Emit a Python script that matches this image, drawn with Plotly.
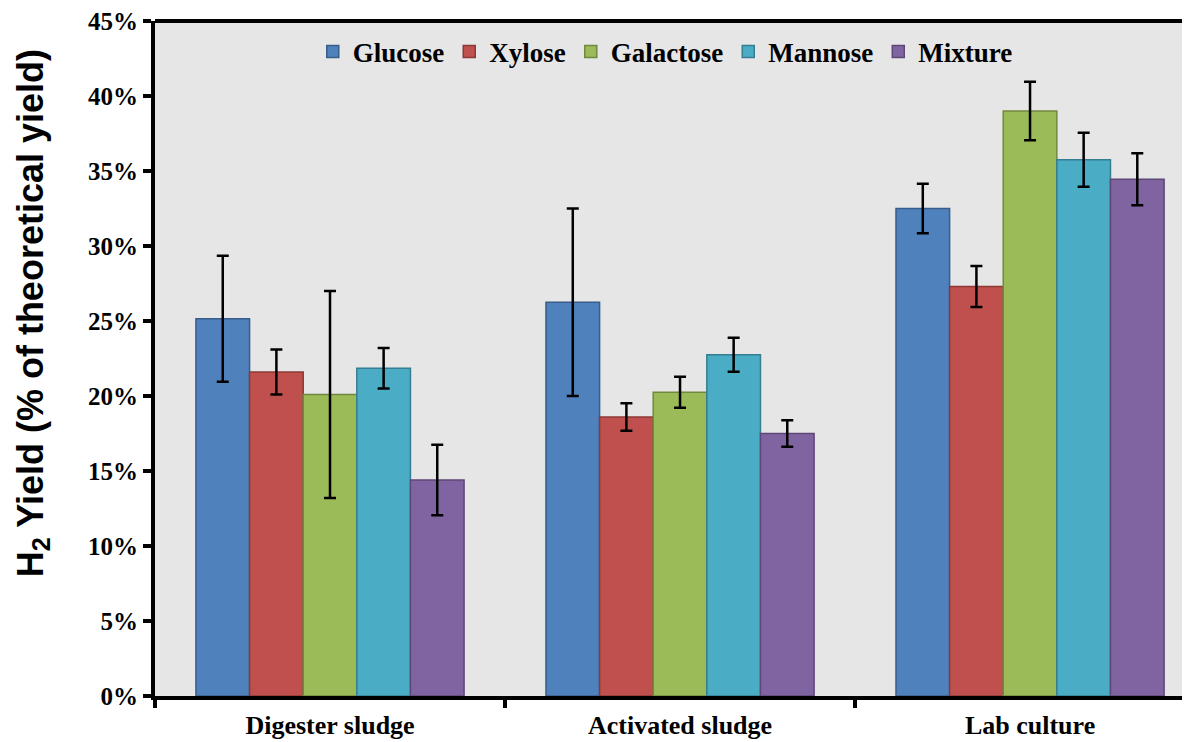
import plotly.graph_objects as go

categories = ["Digester sludge", "Activated sludge", "Lab culture"]
series_names = ["Glucose", "Xylose", "Galactose", "Mannose", "Mixture"]

glucose = [25.15, 26.25, 32.5]
xylose = [21.6, 18.6, 27.3]
galactose = [20.1, 20.25, 39.0]
mannose = [21.85, 22.75, 35.75]
mixture = [14.4, 17.5, 34.45]

glucose_err = [4.2, 6.25, 1.65]
xylose_err = [1.5, 0.92, 1.37]
galactose_err = [6.9, 1.03, 1.95]
mannose_err = [1.35, 1.14, 1.8]
mixture_err = [2.35, 0.89, 1.73]

values = [glucose, xylose, galactose, mannose, mixture]
errors = [glucose_err, xylose_err, galactose_err, mannose_err, mixture_err]

fills = ["#4F81BD", "#C0504D", "#9BBB59", "#4BACC6", "#8064A2"]
outlines = ["#385D8A", "#8C3836", "#71893F", "#357D91", "#5C4776"]

fig = go.Figure()
for name, v, e, fc, oc in zip(series_names, values, errors, fills, outlines):
    fig.add_trace(go.Bar(
        name=name, x=categories, y=v,
        marker=dict(color=fc, line=dict(color=oc, width=1.5)),
        error_y=dict(type="data", array=e, visible=True, color="black",
                     thickness=2.5, width=6),
    ))

serif = dict(family="Liberation Serif, Times New Roman, serif", size=25,
             color="black", weight="bold")

fig.update_layout(
    width=1182, height=734,
    margin=dict(l=147, r=0, t=11, b=46),
    paper_bgcolor="white",
    plot_bgcolor="#E6E6E6",
    barmode="group",
    bargap=0.234,
    bargroupgap=0,
    showlegend=True,
    legend=dict(
        orientation="h", x=0.493, xanchor="center", y=0.954, yanchor="middle",
        bgcolor="rgba(0,0,0,0)",
        font=dict(family="Liberation Serif, Times New Roman, serif", size=27,
                  color="black", weight="bold"),
        itemwidth=30,
    ),
    xaxis=dict(
        type="category",
        range=[-0.5, 2.457],
        showline=True, linecolor="black", linewidth=4,
        ticks="outside", tickson="boundaries", ticklen=8, tickwidth=4,
        tickcolor="black",
        tickfont=dict(family="Liberation Serif, Times New Roman, serif",
                      size=26, color="black", weight="bold"),
        ticklabelstandoff=3,
        showgrid=False, zeroline=False,
    ),
    yaxis=dict(
        range=[0, 45], dtick=5, ticksuffix="%",
        showline=True, linecolor="black", linewidth=4,
        ticks="outside", ticklen=8, tickwidth=4, tickcolor="black",
        tickfont=serif,
        ticklabeloverflow="allow",
        showgrid=False, zeroline=False,
    ),
    shapes=[dict(type="line", xref="paper", yref="paper", x0=0, x1=1,
                 y0=1, y1=1, line=dict(color="black", width=4))],
    annotations=[dict(
        text="H<sub>2</sub> Yield (% of theoretical yield)",
        xref="paper", yref="paper", x=-0.118, y=0.567,
        xanchor="center", yanchor="middle", textangle=-90, showarrow=False,
        font=dict(family="Liberation Sans, Arial, sans-serif", size=36,
                  color="black", weight="bold"),
    )],
)

fig.write_html("out.html")
